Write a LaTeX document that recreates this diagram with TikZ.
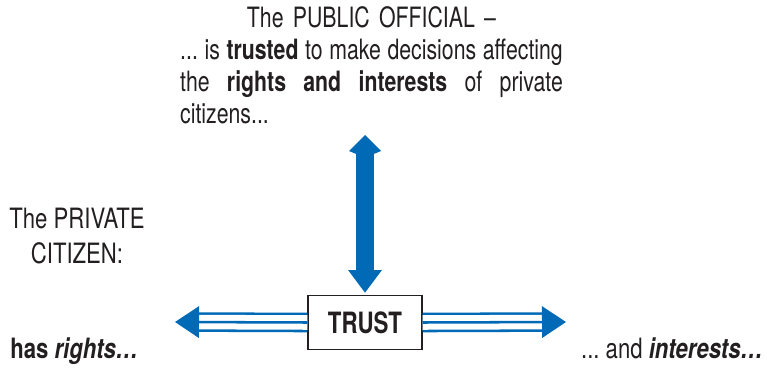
\documentclass[tikz,border=0pt]{standalone}
\usepackage{fontspec}
\setmainfont{TeX Gyre Heros}[FakeStretch=0.76]
\newfontfamily\sidefont{TeX Gyre Heros}[FakeStretch=0.79]
\usetikzlibrary{arrows.meta}
\definecolor{trustblue}{RGB}{0,106,182}
\definecolor{ink}{RGB}{35,31,32}
\newlength{\officialw}
\setlength{\officialw}{287pt}
\newcommand{\jsp}{\hspace{0pt plus 1fill}}
\frenchspacing
\tikzset{
	lbl/.style={inner sep=0pt, text=ink, font=\fontsize{21}{24}\selectfont},
	sidelbl/.style={lbl, font=\fontsize{21}{24}\sidefont},
	trustbox/.style={draw=ink, line width=0.9pt, fill=white, minimum width=85.5pt, minimum height=40.5pt, inner sep=0pt, text=ink, font=\fontsize{22}{24}\selectfont\bfseries},
	tripline/.style={draw=trustblue, line width=1.9pt, -{Triangle[length=18pt,width=23.5pt]},
		preaction={draw=trustblue, -, double=white, double distance=10.9pt, shorten >=17pt}},
	bigarrow/.style={draw=trustblue, line width=12.8pt, {Kite[length=17pt,width=24pt,inset=5pt]}-{Triangle[length=17pt,width=24pt]}}
}
\begin{document}
\begin{tikzpicture}[x=0.75pt,y=-0.75pt]
	\useasboundingbox (0,0) rectangle (767,370);
	\path
	(371.5,28)  node[lbl,anchor=base,text width=\officialw,align=center] (official)
	{The PUBLIC OFFICIAL --\\
	\leavevmode\hbox to\officialw{...\jsp is\jsp\textbf{trusted}\jsp to\jsp make\jsp decisions\jsp affecting}\\
	\leavevmode\hbox to\officialw{the\jsp\textbf{rights\jsp and\jsp interests}\jsp of\jsp private}\\
	\leavevmode\hbox to\officialw{citizens...\hfil}}
	(77,263)    node[sidelbl,anchor=base,align=center] (citizen) {The PRIVATE\\[1.5pt]CITIZEN:}
	(10,358.5)  node[sidelbl,anchor=base west] (rights) {\textbf{has \textit{rights…}}}
	(763,358.5) node[sidelbl,anchor=base east] (interests) {... and \textbf{\textit{interests…}}}
	(365,322.5) node[trustbox] (trust) {TRUST};
	\coordinate (top) at (365,135);
	\coordinate (lefttip) at (175,322);
	\coordinate (righttip) at (566,322);
	\draw[bigarrow] (top) -- ([yshift=1.5pt]trust.north);
	\draw[tripline] (trust.west) -- (lefttip);
	\draw[tripline] (trust.east) -- (righttip);
\end{tikzpicture}
\end{document}
